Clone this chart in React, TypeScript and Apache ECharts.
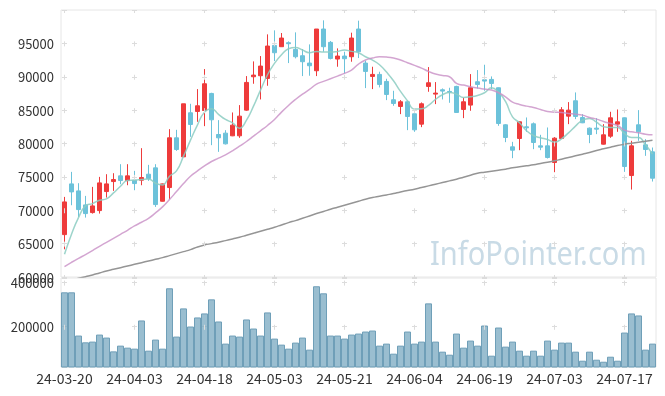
import React, { useEffect, useRef } from "react";
import * as echarts from "echarts";

const DATES = [
  "24-03-20","24-03-21","24-03-22","24-03-25","24-03-26","24-03-27","24-03-28","24-03-29","24-04-01","24-04-02",
  "24-04-03","24-04-04","24-04-05","24-04-08","24-04-09","24-04-11","24-04-12","24-04-15","24-04-16","24-04-17",
  "24-04-18","24-04-19","24-04-22","24-04-23","24-04-24","24-04-25","24-04-26","24-04-29","24-04-30","24-05-02",
  "24-05-03","24-05-07","24-05-08","24-05-09","24-05-10","24-05-13","24-05-14","24-05-16","24-05-17","24-05-20",
  "24-05-21","24-05-22","24-05-23","24-05-24","24-05-27","24-05-28","24-05-29","24-05-30","24-05-31","24-06-03",
  "24-06-04","24-06-05","24-06-07","24-06-10","24-06-11","24-06-12","24-06-13","24-06-14","24-06-17","24-06-18",
  "24-06-19","24-06-20","24-06-21","24-06-24","24-06-25","24-06-26","24-06-27","24-06-28","24-07-01","24-07-02",
  "24-07-03","24-07-04","24-07-05","24-07-08","24-07-09","24-07-10","24-07-11","24-07-12","24-07-15","24-07-16",
  "24-07-17","24-07-18","24-07-19","24-07-22","24-07-23"
];

const OPEN = [
  66350,73950,72900,70800,69650,69950,72800,74300,75150,74450,
  74500,74500,75400,76350,71350,73400,80850,78000,84600,84800,
  84950,87500,81350,81550,81150,81150,85000,90000,90150,89750,
  94700,94500,95100,94100,93150,92050,90900,97150,95150,92650,
  93100,93000,97150,92050,90050,90350,89300,86550,85550,86250,
  84450,82900,88550,87400,88050,87800,88550,85100,85750,89250,
  89550,89600,88350,82800,79500,80750,82500,82950,79650,79650,
  77150,80750,84100,86400,83900,82300,82300,79900,81100,82900,
  83850,75200,82800,79800,78750
];
const CLOSE = [
  71250,72750,70100,69500,70650,74100,73950,74600,74450,75150,
  74000,74900,74750,70850,73950,80850,79100,85950,82850,85650,
  88950,83550,80850,79950,82750,84100,89150,90250,91600,94600,
  93600,95800,94950,93000,92250,91650,97150,94500,92750,93100,
  92700,95800,93750,90800,90350,88850,87350,86000,86250,84050,
  82050,85950,89100,87550,87850,87700,84650,86250,88350,88850,
  89350,89000,83000,80900,79000,83250,82350,80150,79450,77900,
  80800,85050,85000,84050,83100,81350,82150,81300,83850,83250,
  76550,79650,81750,79100,74800
];
const LOW = [
  64150,70750,69000,68900,69500,69500,71900,72900,73900,73750,
  73000,73750,74400,70500,71300,71650,78900,78000,81000,83250,
  82600,79750,78750,79850,81100,80850,84900,88950,86600,88650,
  92350,94500,92050,92750,90100,90150,90100,93750,92600,91500,
  90500,92250,92800,88300,88150,88400,86500,85650,84400,82000,
  81750,82450,87750,85900,86600,86100,84650,83800,84900,88250,
  87900,88150,82650,80200,77800,79000,81750,79150,79000,77750,
  75700,80700,82900,83650,83050,80050,81400,79850,80850,81750,
  75750,73100,80400,78150,74300
];
const HIGH = [
  72000,75750,74050,72150,73500,75000,75400,75550,76900,76900,
  75900,79300,76800,76900,74000,82150,82050,85950,85950,88150,
  91150,87600,83500,82000,84650,85750,90100,92300,93100,96350,
  96950,96550,95300,96650,94150,94850,97150,98450,95350,94250,
  93750,96600,98400,92400,91500,90750,89700,87900,86500,86400,
  84500,86150,91450,89200,88250,88350,88650,86850,90400,91000,
  91800,90050,88400,82900,80250,83300,83900,83150,81300,82400,
  80950,85450,86200,87650,84400,82400,83800,82900,84750,85100,
  83900,80400,85000,80650,79400
];

const MA5 = [
  63400,66400,68900,70650,71000,71500,71700,72600,73600,74450,
  74500,74600,74700,74050,73800,75100,75900,78100,80500,82800,
  84700,85200,84370,83600,83100,82300,83500,85600,88000,90300,
  92000,93300,94200,94400,94000,93600,93800,93700,93700,93800,
  94000,93800,93600,93000,92500,91800,90700,89400,87800,86400,
  85150,85200,85700,86600,87300,87650,87400,86900,87000,87200,
  87600,88350,87700,86300,84000,83100,81900,81200,80850,80600,
  80200,80700,81600,82600,83500,83750,83200,82500,82400,82400,
  81500,80900,80900,79800,78400
];
const MA20 = [
  61550,62200,62800,63350,63950,64600,65200,65800,66400,67000,
  67650,68200,68800,69600,70500,71600,72800,74000,75100,75900,
  76650,77300,77800,78300,78900,79600,80300,81100,81900,82700,
  83600,84700,85700,86600,87400,88100,88900,89300,89700,90100,
  90500,91000,91900,92500,92800,93000,92950,92800,92500,92100,
  91700,91300,90800,90400,90200,90000,89000,88750,88500,88300,
  88150,88000,87600,87000,86200,85850,85600,85400,85100,84800,
  84700,84650,84500,84400,84250,83900,83650,83300,83000,82700,
  82000,81750,81600,81400,81300
];
const MA60 = [
  59300,59550,59800,60050,60300,60600,60900,61150,61400,61650,
  61900,62150,62400,62650,62900,63200,63500,63800,64100,64500,
  64800,65000,65200,65450,65700,65950,66250,66550,66850,67150,
  67450,67800,68150,68450,68800,69150,69500,69800,70150,70450,
  70750,71050,71350,71650,71900,72100,72300,72500,72750,72950,
  73150,73400,73650,73900,74150,74400,74650,74950,75250,75550,
  75700,75850,76000,76150,76350,76500,76650,76800,77000,77200,
  77400,77650,77900,78150,78400,78650,78950,79200,79450,79700,
  79900,80050,80200,80350,80500
];

const VOLUME = [
  355400,355400,160000,129500,132700,164500,150900,88600,114500,105400,
  100900,228200,91800,141800,100900,373600,155400,282700,200900,241800,
  260000,323600,223600,123600,160000,155400,232700,191800,160000,264500,
  146300,119000,100900,128200,150900,96400,382700,350900,160000,160000,
  146300,164500,169000,178200,182700,114500,123600,78200,114500,178200,
  123600,132700,305400,132700,87300,73600,169000,105400,137300,114500,
  205400,69100,196300,110000,132700,91800,69100,91800,69100,137300,
  96400,128200,128200,87300,46400,87300,50900,41800,64500,46400,
  173600,260000,250900,96400,123600
];

const GRID_DATES = ["24-03-20","24-04-03","24-04-18","24-05-03","24-05-21","24-06-04","24-06-19","24-07-03","24-07-17"];

const FONT = '"Noto Sans CJK KR", "Noto Sans", sans-serif';
const GRIDC = "#dcdcdc";

export default function App() {
  const ref = useRef<HTMLDivElement>(null);
  useEffect(() => {
    if (!ref.current) return;
    const chart = echarts.init(ref.current, undefined, { renderer: "svg" });
    const candleData = OPEN.map((o, i) => [o, CLOSE[i], LOW[i], HIGH[i]]);
    const vLines = (dash: number[], off: number) => ({
      symbol: "none",
      silent: true,
      label: { show: false },
      lineStyle: { color: GRIDC, width: 1, type: dash, dashOffset: off },
      emphasis: { disabled: true },
      data: GRID_DATES.map((d) => ({ xAxis: d })),
    });
    const plain = (v: number) => String(v);
    chart.setOption({
      animation: false,
      textStyle: { fontFamily: FONT },
      grid: [
        { left: 61, right: 9, top: 10, height: 267, show: true, borderColor: "#e6e6e6", borderWidth: 1 },
        { left: 61, right: 9, top: 278, height: 89, show: true, borderColor: "#e6e6e6", borderWidth: 1 },
      ],
      xAxis: [
        {
          type: "category", gridIndex: 0, data: DATES, boundaryGap: true,
          axisLine: { show: false }, axisTick: { show: false }, axisLabel: { show: false }, splitLine: { show: false },
        },
        {
          type: "category", gridIndex: 1, data: DATES, boundaryGap: true,
          axisLine: { show: false }, axisTick: { show: false },
          axisLabel: { color: "#333", fontSize: 14, fontFamily: FONT, interval: 9, margin: 4 }, splitLine: { show: false },
        },
      ],
      yAxis: [
        {
          type: "value", gridIndex: 0, min: 60000, max: 100000, interval: 5000,
          axisLine: { show: false }, axisTick: { show: false },
          axisLabel: { color: "#333", fontSize: 13, fontFamily: FONT, showMaxLabel: false, margin: 7, formatter: plain },
          splitLine: { lineStyle: { color: GRIDC, width: 1, type: [5, 65], dashOffset: 69 } },
        },
        {
          type: "value", gridIndex: 1, min: 18000, max: 420000, splitNumber: 2,
          axisLine: { show: false }, axisTick: { show: false },
          axisLabel: { color: "#333", fontSize: 13, fontFamily: FONT, showMinLabel: false, showMaxLabel: false, margin: 7, formatter: plain },
          splitLine: { lineStyle: { color: GRIDC, width: 1, type: [5, 65], dashOffset: 69 } },
        },
      ],
      graphic: [
        {
          type: "text", x: 430, y: 236, scaleX: 0.88, silent: true, z: 0,
          style: { text: "InfoPointer.com", fill: "#c9dbe6", font: '33px "Noto Sans"' },
        },
      ],
      series: [
        {
          type: "candlestick", xAxisIndex: 0, yAxisIndex: 0, data: candleData, barWidth: 5,
          itemStyle: { color: "#ee3b3b", color0: "#6cc2da", borderColor: "#ee3b3b", borderColor0: "#6cc2da", borderWidth: 1 },
          markLine: vLines([5, 28.375], 2.5),
          z: 3,
        },
        {
          type: "line", xAxisIndex: 0, yAxisIndex: 0, data: MA5, smooth: true, showSymbol: false,
          lineStyle: { color: "#8ccdc2", width: 1.5, opacity: 0.85 }, z: 4,
        },
        {
          type: "line", xAxisIndex: 0, yAxisIndex: 0, data: MA20, smooth: true, showSymbol: false,
          lineStyle: { color: "#c88ec5", width: 1.5, opacity: 0.8 }, z: 4,
        },
        {
          type: "line", xAxisIndex: 0, yAxisIndex: 0, data: MA60, smooth: true, showSymbol: false,
          lineStyle: { color: "#959595", width: 1.5 }, z: 4,
        },
        {
          type: "bar", xAxisIndex: 1, yAxisIndex: 1, data: VOLUME, barWidth: "100%",
          itemStyle: { color: "rgba(120,168,192,0.75)", borderColor: "#6f9fb8", borderWidth: 1 },
          markLine: vLines([5, 39.2], 6.5),
        },
      ],
    });
    return () => chart.dispose();
  }, []);
  return <div ref={ref} style={{ position: "fixed", left: 0, top: 0, width: 665, height: 396 }} />;
}
